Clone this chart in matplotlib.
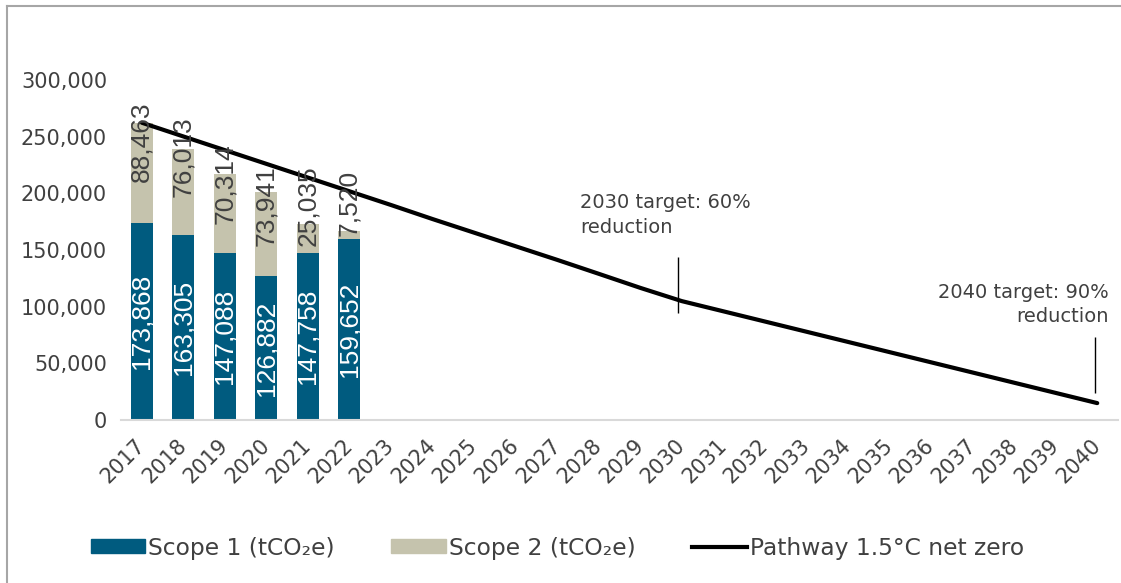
import matplotlib
matplotlib.use("Agg")
import matplotlib.pyplot as plt
from matplotlib.lines import Line2D
from matplotlib.patches import Patch
from matplotlib.ticker import FuncFormatter
from matplotlib.transforms import ScaledTranslation
import numpy as np

# ---------------------------------------------------------------- data
years = [str(y) for y in range(2017, 2041)]
bar_years = ["2017", "2018", "2019", "2020", "2021", "2022"]
scope1 = [173868, 163305, 147088, 126882, 147758, 159652]
scope2 = [88463, 76013, 70314, 73941, 25035, 7520]
pathway = [262331, 250200, 238100, 226000, 213900, 201800, 189700, 177300,
           165300, 153300, 141300, 129000, 116600, 104900, 95900, 86900,
           77900, 68900, 59900, 50900, 41900, 32900, 23900, 14900]
targets = [("2030", "2030 target: 60%\nreduction"),
           ("2040", "2040 target: 90%\nreduction")]

# ---------------------------------------------------------------- style
c_scope1 = "#005B7F"
c_scope2 = "#C5C3AD"
c_text = "#404040"
bar_width = 0.53
s2_label_shift = [19, 8, 10, 13, -18, -28]   # px, down is positive

plt.rcParams["font.family"] = ["DejaVu Sans"]

fig = plt.figure(figsize=(11.21, 5.83), dpi=100)
ax = fig.add_axes([121 / 1121, 1 - 420 / 583, (1118 - 121) / 1121, (420 - 80) / 583])

x_all = np.arange(len(years))
x_bar = np.array([years.index(y) for y in bar_years])

ax.bar(x_bar, scope1, width=bar_width, color=c_scope1, zorder=2)
ax.bar(x_bar, scope2, width=bar_width, bottom=scope1, color=c_scope2, zorder=2)
ax.plot(x_all, pathway, color="black", lw=3, solid_capstyle="round",
        solid_joinstyle="round", zorder=3)

# value labels, rotated like the source workbook
for xi, s1, s2, dy in zip(x_bar, scope1, scope2, s2_label_shift):
    ax.text(xi, s1 / 2, f"{s1:,}", rotation=90, ha="center", va="center",
            color="white", fontsize=19, family="Liberation Sans", zorder=4)
    ax.annotate(f"{s2:,}", (xi, s1 + s2), xytext=(0, -dy), textcoords="offset pixels",
                rotation=90, ha="center", va="center", color=c_text,
                fontsize=19, family="Liberation Sans", zorder=4)

# target markers
ax.vlines(years.index("2030") - 0.1, 94000, 144000, color="black", lw=1, zorder=4)
ax.vlines(years.index("2040") - 0.05, 24000, 73000, color="black", lw=1, zorder=4)
ax.text(10.56, 200000, targets[0][1], ha="left", va="top", fontsize=14,
        color=c_text, linespacing=1.35)
ax.text(23.28, 121000, targets[1][1], ha="right", va="top", fontsize=14,
        color=c_text, linespacing=1.35)

ax.set_xlim(-0.5, len(years) - 0.5)
ax.set_ylim(0, 300000)
ax.set_yticks(np.arange(0, 300001, 50000))
ax.yaxis.set_major_formatter(FuncFormatter(lambda v, p: f"{int(v):,}"))
ax.set_xticks(x_all)
ax.set_xticklabels(years, rotation=45, ha="right", va="top", rotation_mode="anchor")
ax.tick_params(axis="y", length=0, pad=10, labelsize=15, labelcolor=c_text)
ax.tick_params(axis="x", length=0, pad=11, labelsize=15, labelcolor=c_text)
# nudge the slanted year labels a bit to the left
shift = ScaledTranslation(-0.07, 0.0, fig.dpi_scale_trans)
for lbl in ax.get_xticklabels():
    lbl.set_transform(lbl.get_transform() + shift)

for side in ["top", "right", "left"]:
    ax.spines[side].set_visible(False)
ax.spines["bottom"].set_color("#D9D9D9")
ax.spines["bottom"].set_linewidth(1.5)

handles = [Patch(color=c_scope1), Patch(color=c_scope2),
           Line2D([], [], color="black", lw=3)]
labels = ["Scope 1 (tCO\u2082e)", "Scope 2 (tCO\u2082e)", "Pathway 1.5°C net zero"]
fig.legend(handles, labels, loc="center", bbox_to_anchor=(0.497, 1 - 548 / 583),
           ncol=3, frameon=False, fontsize=16.8, labelcolor=c_text,
           handlelength=2.35, handleheight=0.55, handletextpad=0.13,
           columnspacing=2.4)

# outer frame (top and left edge)
fig.add_artist(Line2D([7 / 1121, 1], [1 - 6 / 583, 1 - 6 / 583],
                      color="#A6A6A6", lw=1.5))
fig.add_artist(Line2D([7 / 1121, 7 / 1121], [0, 1 - 6 / 583],
                      color="#A6A6A6", lw=1.5))

fig.savefig("out.png", dpi=100)
